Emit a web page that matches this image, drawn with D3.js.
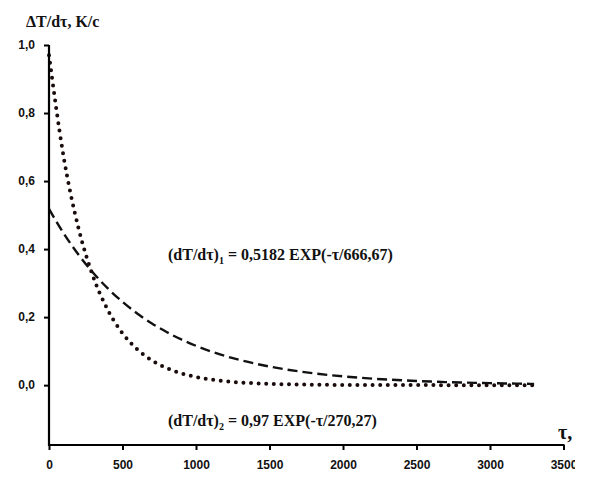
<!DOCTYPE html>
<html>
<head>
<meta charset="utf-8">
<script src="https://cdn.jsdelivr.net/npm/d3@7"></script>
<style>
  html, body { margin: 0; padding: 0; background: #fff; }
  svg { display: block; }
</style>
</head>
<body>
<div id="chart"></div>
<script>
// ---- data ----
const tau = [0,100,200,300,400,500,600,700,800,900,1000,1100,1200,1300,1400,1500,1600,1700,1800,1900,2000,2100,2200,2300,2400,2500,2600,2700,2800,2900,3000,3100,3200,3300];
const series1 = [0.5182,0.4460,0.3839,0.3304,0.2844,0.2448,0.2107,0.1813,0.1561,0.1343,0.1156,0.0995,0.0857,0.0737,0.0635,0.0546,0.0470,0.0405,0.0348,0.0300,0.0258,0.0222,0.0191,0.0165,0.0142,0.0122,0.0105,0.0090,0.0078,0.0067,0.0058,0.0050,0.0043,0.0037];
const series2 = [0.9700,0.6700,0.4628,0.3197,0.2208,0.1525,0.1054,0.0728,0.0503,0.0347,0.0240,0.0166,0.0114,0.0079,0.0055,0.0038,0.0026,0.0018,0.0012,0.0009,0.0006,0.0004,0.0003,0.0002,0.0001,0.0001,0.0001,0,0,0,0,0,0,0];
const xTicks = [0,500,1000,1500,2000,2500,3000,3500];
const xTickLabels = ["0","500","1000","1500","2000","2500","3000","3500"];
const yTicks = [0,0.2,0.4,0.6,0.8,1.0];
const yTickLabels = ["0,0","0,2","0,4","0,6","0,8","1,0"];
const yTitle = "ΔT/dτ, K/c";
const xTitle = "τ,";
const eq1 = {pre: "(dT/dτ)", sub: "1", post: " = 0,5182 EXP(-τ/666,67)"};
const eq2 = {pre: "(dT/dτ)", sub: "2", post: " = 0,97 EXP(-τ/270,27)"};

// ---- layout ----
const W = 589, H = 493;
const svg = d3.select("#chart").append("svg").attr("width", W).attr("height", H);

const x = d3.scaleLinear().domain([0, 3500]).range([49, 563.5]);
const y = d3.scaleLinear().domain([-0.176, 1.0]).range([445, 45]);

const pts1 = tau.map((t, i) => [t, series1[i]]);
const pts2 = tau.map((t, i) => [t, series2[i]]);
const line = d3.line().x(d => x(d[0])).y(d => y(d[1])).curve(d3.curveMonotoneX);

// curves
svg.append("path").attr("d", line(pts1))
  .attr("fill", "none").attr("stroke", "#111")
  .attr("stroke-width", 2.4).attr("stroke-dasharray", "10,5");
svg.append("path").attr("d", line(pts2))
  .attr("fill", "none").attr("stroke", "#1a0c0c")
  .attr("stroke-width", 4).attr("stroke-linecap", "round")
  .attr("stroke-dasharray", "0,7.6");

// axes
const yAxis = d3.axisLeft(y).tickValues(yTicks).tickSize(5).tickSizeOuter(0)
  .tickFormat((d, i) => yTickLabels[i]);
const gy = svg.append("g").attr("transform", `translate(${x(0)},0)`).call(yAxis);
gy.select(".domain").remove();
gy.append("line").attr("x1", 0).attr("x2", 0).attr("y1", y(1.0)).attr("y2", y(-0.176) + 1)
  .attr("stroke", "#000").attr("stroke-width", 2.2);

const xAxis = d3.axisBottom(x).tickValues(xTicks).tickSize(5).tickSizeOuter(0)
  .tickFormat((d, i) => xTickLabels[i]);
const gx = svg.append("g").attr("transform", `translate(0,${y(-0.176)})`).call(xAxis);
gx.select(".domain").remove();
gx.append("line").attr("x1", x(0) - 1).attr("x2", x(3500) + 1).attr("y1", 0).attr("y2", 0)
  .attr("stroke", "#000").attr("stroke-width", 2.2);

[gx, gy].forEach(g => {
  g.selectAll(".tick line").attr("stroke", "#000").attr("stroke-width", 2);
  g.selectAll(".tick text").attr("font-family", "Liberation Sans, Arial, sans-serif")
    .attr("font-size", 12).attr("font-weight", "bold").attr("fill", "#111");
});
gy.selectAll(".tick text").attr("x", -14);
gx.selectAll(".tick text").attr("y", 15);

// titles
svg.append("text").attr("x", 26).attr("y", 27)
  .attr("font-family", "Liberation Serif, Times New Roman, serif")
  .attr("font-size", 16).attr("font-weight", "bold").attr("fill", "#111")
  .text(yTitle);
svg.append("text").attr("x", 558).attr("y", 439)
  .attr("font-family", "Liberation Serif, Times New Roman, serif")
  .attr("font-size", 20).attr("font-weight", "bold").attr("fill", "#111")
  .text(xTitle);

function eq(e, xx, yy) {
  const t = svg.append("text").attr("x", xx).attr("y", yy)
    .attr("font-family", "Liberation Serif, Times New Roman, serif")
    .attr("font-size", 16).attr("font-weight", "bold").attr("fill", "#111");
  t.append("tspan").text(e.pre);
  t.append("tspan").attr("font-size", 10).attr("dy", 4).text(e.sub);
  t.append("tspan").attr("dy", -4).text(e.post);
}
eq(eq1, 168, 260);
eq(eq2, 168, 426);

// right edge of the source image is cropped
svg.append("rect").attr("x", 575).attr("y", 0).attr("width", W - 575).attr("height", H).attr("fill", "#fff");
</script>
</body>
</html>
